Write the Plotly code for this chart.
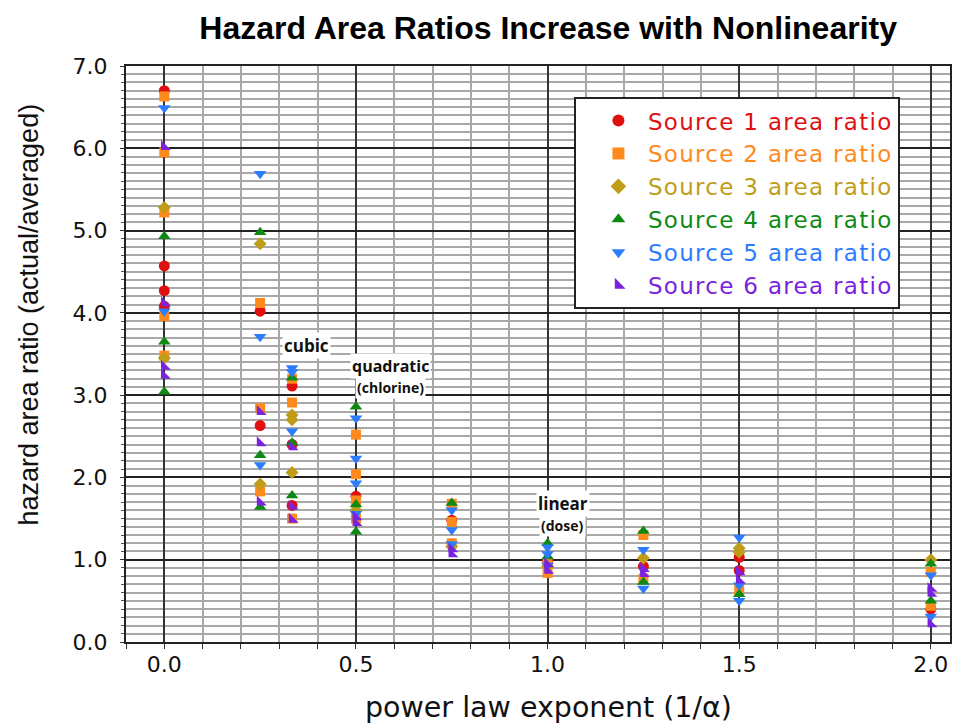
import plotly.graph_objects as go

# ---------------- data ----------------
s1_x = [0, 0, 0, 0, 0.25, 0.25, 1/3, 1/3, 1/3, 0.5, 0.75, 1.0, 1.25, 1.5, 1.5, 2.0]
s1_y = [6.70, 4.57, 4.27, 4.08, 4.02, 2.63, 3.11, 2.40, 1.66, 1.77, 1.48, 0.98, 0.92, 1.03, 0.87, 0.40]

s2_x = [0, 0, 0, 0, 0, 0.25, 0.25, 0.25, 1/3, 1/3, 1/3, 0.5, 0.5, 0.5, 0.5,
        0.75, 0.75, 0.75, 1.0, 1.0, 1.25, 1.25, 1.5, 2.0, 2.0]
s2_y = [6.63, 5.95, 5.22, 3.96, 3.48, 4.12, 2.84, 1.83, 3.20, 2.91, 1.50, 2.52, 2.04, 1.72, 1.50,
        1.68, 1.46, 1.20, 0.84, 0.95, 1.30, 0.77, 0.63, 0.85, 0.44]

s3_x = [0, 0, 0.25, 0.25, 1/3, 1/3, 1/3, 0.5, 0.75, 1.0, 1.25, 1.5, 1.5, 2.0]
s3_y = [5.28, 3.45, 4.84, 1.92, 2.76, 2.70, 2.06, 1.60, 1.16, 0.92, 1.02, 1.14, 1.09, 1.00]

s4_x = [0, 0, 0, 0.25, 0.25, 0.25, 1/3, 1/3, 1/3, 0.5, 0.5, 0.5, 0.75, 1.0, 1.0,
        1.25, 1.25, 1.5, 2.0, 2.0]
s4_y = [4.93, 3.65, 3.04, 4.98, 2.27, 1.64, 3.21, 2.42, 1.78, 2.86, 1.67, 1.34, 1.69, 1.20, 1.04,
        1.35, 0.73, 0.58, 0.95, 0.50]

s5_x = [0, 0, 0.25, 0.25, 0.25, 1/3, 1/3, 1/3, 0.5, 0.5, 0.5, 0.5, 0.75, 0.75, 0.75,
        1.0, 1.0, 1.0, 1.25, 1.25, 1.5, 1.5, 1.5, 2.0, 2.0]
s5_y = [6.49, 4.02, 5.69, 3.71, 2.15, 3.33, 3.28, 2.56, 2.72, 2.23, 1.93, 1.56, 1.60, 1.36, 1.19,
        1.15, 1.07, 0.93, 1.12, 0.65, 1.27, 0.69, 0.50, 0.81, 0.31]

s6_x = [0, 0, 0, 0, 0.25, 0.25, 0.25, 1/3, 1/3, 1/3, 0.5, 0.5, 0.75, 0.75, 1.0, 1.0,
        1.25, 1.25, 1.5, 1.5, 2.0, 2.0, 2.0]
s6_y = [6.02, 4.12, 3.35, 3.24, 2.80, 2.42, 1.70, 2.37, 1.65, 1.49, 1.52, 1.45, 1.13, 1.07, 0.95, 0.87,
        0.89, 0.83, 0.85, 0.75, 0.65, 0.59, 0.22]

names = ["Source 1 area ratio", "Source 2 area ratio", "Source 3 area ratio",
         "Source 4 area ratio", "Source 5 area ratio", "Source 6 area ratio"]
colors = ["#e01010", "#ff8a1c", "#bf9d18", "#0e8a14", "#2b7cff", "#7a22e0"]
symbols = ["circle", "square", "diamond", "triangle-up", "triangle-down", "triangle-sw"]
sizes = [11, 10, 10, 11, 11, 11]
xs = [s1_x, s2_x, s3_x, s4_x, s5_x, s6_x]
ys = [s1_y, s2_y, s3_y, s4_y, s5_y, s6_y]

x_ticks = [0.0, 0.5, 1.0, 1.5, 2.0]
y_ticks = [0, 1, 2, 3, 4, 5, 6, 7]

notes = [("<b>cubic</b>", 0.37, 3.60, 17),
         ("<b>quadratic</b>", 0.59, 3.36, 16),
         ("<b>(chlorine)</b>", 0.59, 3.09, 14),
         ("<b>linear</b>", 1.04, 1.68, 17),
         ("<b>(dose)</b>", 1.04, 1.41, 14)]

fig = go.Figure()
for x, y, n, c, s, sz in zip(xs, ys, names, colors, symbols, sizes):
    fig.add_trace(go.Scatter(
        x=x, y=y, mode="markers",
        name=f"<span style='color:{c};letter-spacing:1.3px'>{n}</span>",
        marker=dict(color=c, symbol=s, size=sz, line=dict(width=0)),
    ))

for txt, ax, ay, fs in notes:
    fig.add_annotation(x=ax, y=ay, text=txt, showarrow=False, bgcolor="white",
                       font=dict(family="Open Sans", size=fs, color="#111"), borderpad=1)

# axis titles as annotations
fig.add_annotation(x=0.5125, y=-0.113, xref="paper", yref="paper",
                   xanchor="center", yanchor="middle",
                   text="power law exponent (1/α)", showarrow=False,
                   font=dict(family="DejaVu Sans", size=28.5, color="#111"))
fig.add_annotation(x=-0.118, y=0.568, xref="paper", yref="paper", textangle=-90,
                   xanchor="center", yanchor="middle",
                   text="hazard area ratio (actual/averaged)", showarrow=False,
                   font=dict(family="Liberation Sans", size=27, color="#111"))

fig.update_layout(
    width=956, height=715,
    margin=dict(l=118, r=12, t=58, b=81),
    paper_bgcolor="white", plot_bgcolor="white",
    title=dict(text="<b>Hazard Area Ratios Increase with Nonlinearity</b>",
               x=0.565, xanchor="center", y=0.972, yanchor="middle",
               font=dict(family="Liberation Sans", size=32, color="#000")),
    showlegend=True,
    legend=dict(x=0.5436, y=0.946, xanchor="left", yanchor="top",
                bgcolor="white", bordercolor="#222", borderwidth=2,
                font=dict(family="DejaVu Sans", size=23),
                itemsizing="constant", itemwidth=49, indentation=13, tracegroupgap=0),
    xaxis=dict(range=[-0.1, 2.05], tickvals=x_ticks, ticktext=[f"{v:.1f}" for v in x_ticks],
               showgrid=True, gridcolor="#333", gridwidth=1.5,
               zeroline=False, showline=True, linecolor="#222", linewidth=2, mirror=True,
               ticks="outside", ticklen=5, tickcolor="#333", ticklabelstandoff=-3,
               minor=dict(dtick=0.1, tick0=0, showgrid=True, gridcolor="#a8a8a8", gridwidth=1.5,
                          ticks="outside", ticklen=5, tickcolor="#333"),
               tickfont=dict(family="DejaVu Sans", size=22, color="#111")),
    yaxis=dict(range=[0, 7], tickvals=y_ticks, ticktext=[f"{v:.1f}" for v in y_ticks],
               showgrid=True, gridcolor="#222", gridwidth=1.5,
               zeroline=False, showline=True, linecolor="#222", linewidth=2, mirror=True,
               ticks="outside", ticklen=4, tickcolor="#333", ticklabelstandoff=8,
               minor=dict(dtick=0.1, tick0=0, showgrid=True, gridcolor="#a8a8a8", gridwidth=1.5,
                          ticks="outside", ticklen=3, tickcolor="#555"),
               tickfont=dict(family="DejaVu Sans", size=22, color="#111")),
)

fig.write_html("out.html")
